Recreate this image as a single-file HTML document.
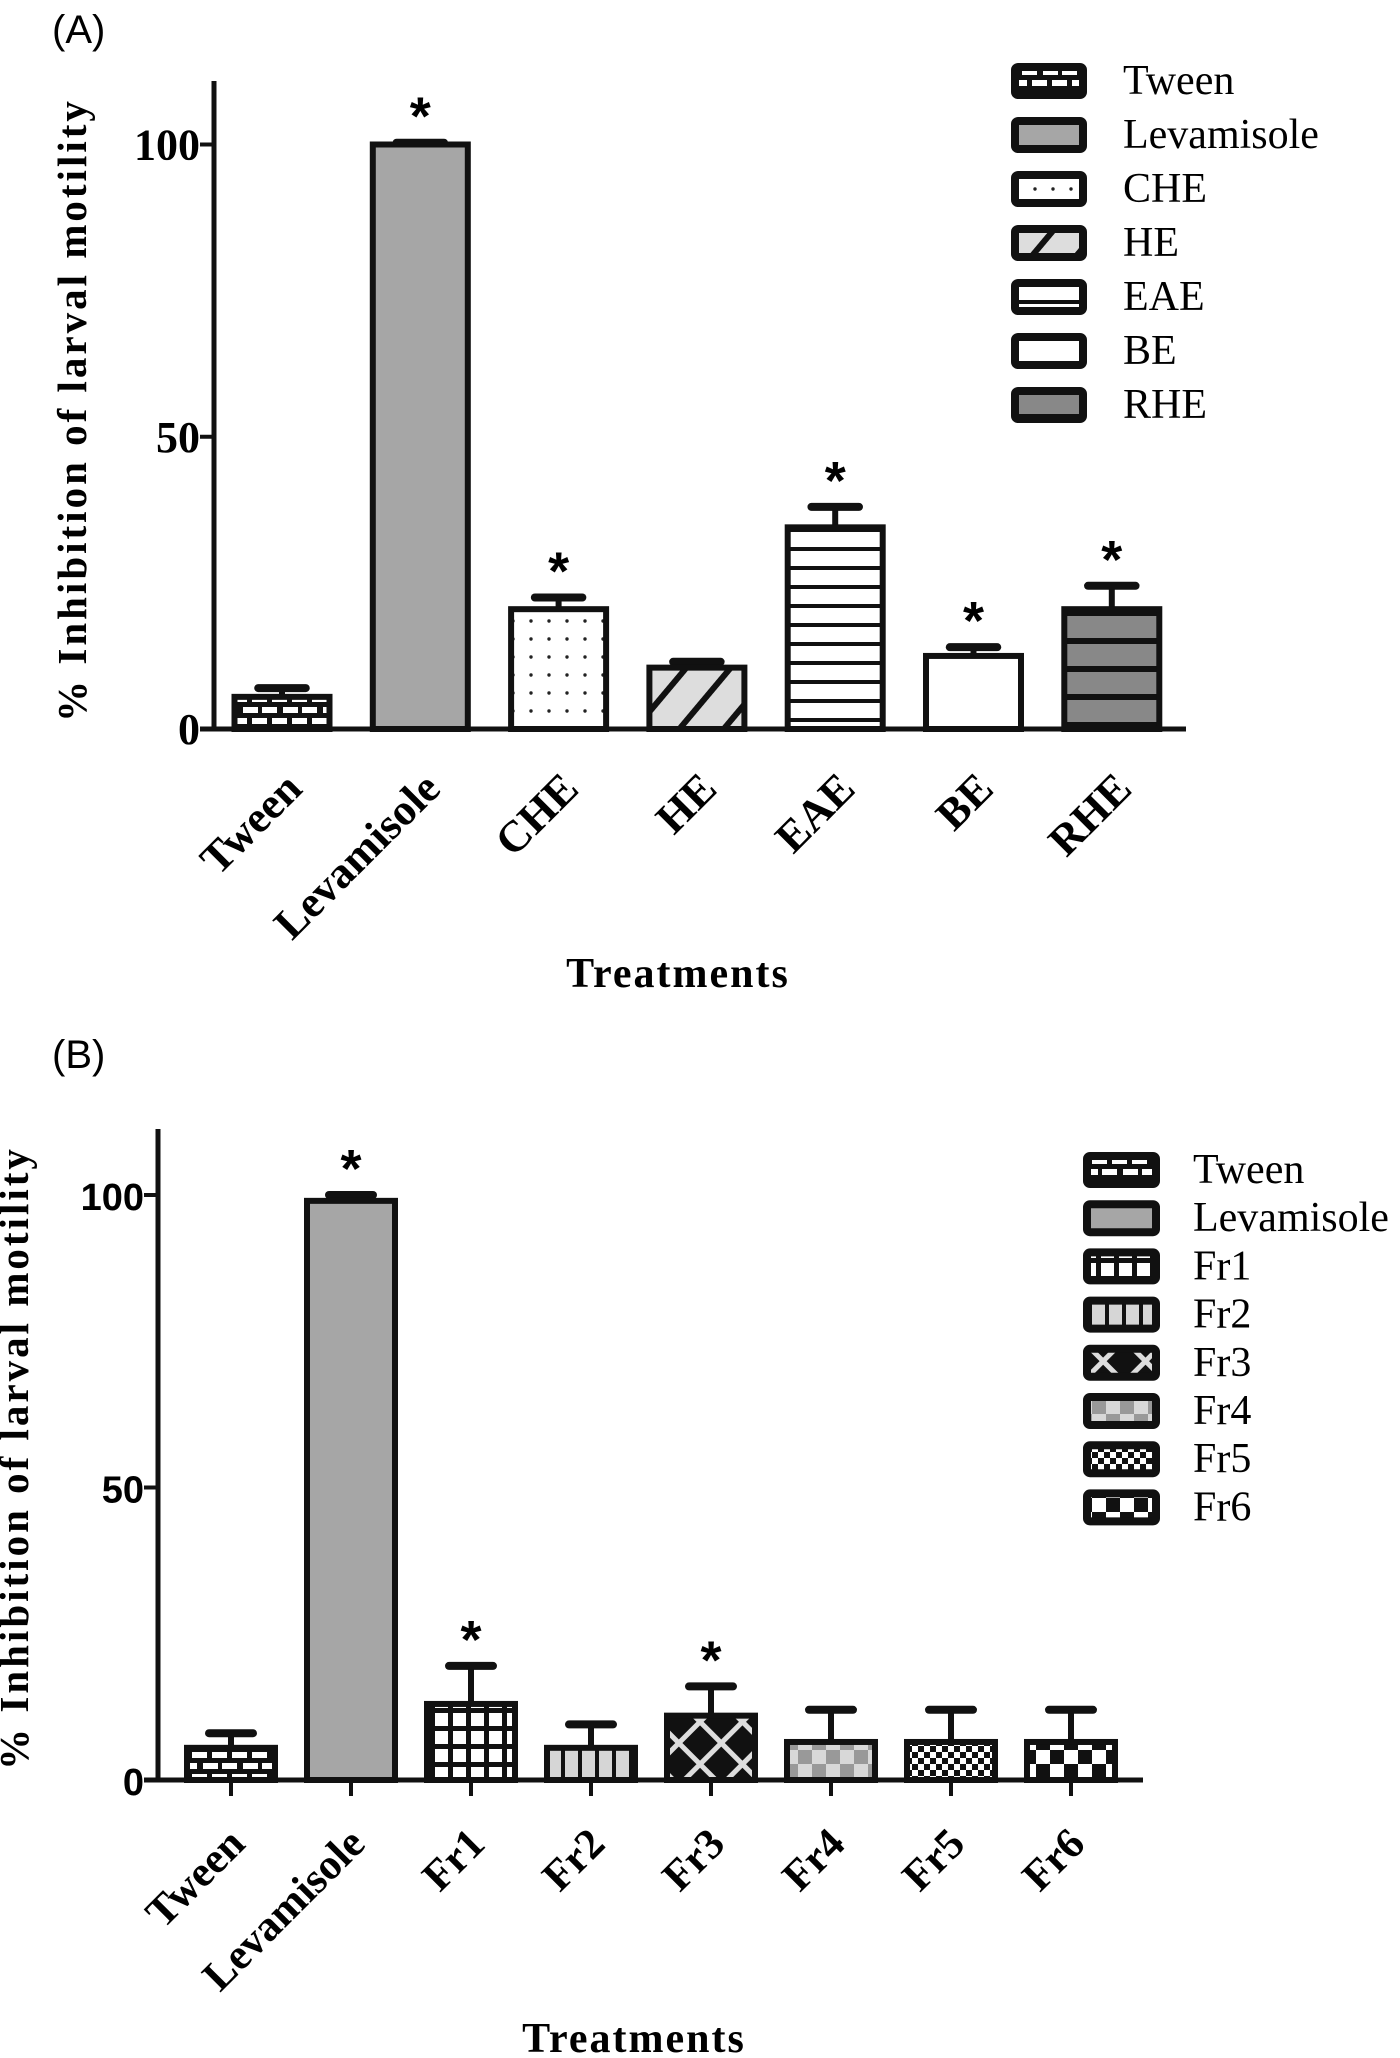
<!DOCTYPE html>
<html><head><meta charset="utf-8"><style>html,body{margin:0;padding:0;background:#fff}svg{display:block}</style></head>
<body>
<svg id="fig" width="1400" height="2058" viewBox="0 0 1400 2058" xmlns="http://www.w3.org/2000/svg">
<defs>
<pattern id="p-tween" patternUnits="userSpaceOnUse" width="40" height="22"><rect width="40" height="22" fill="#111"/><rect x="3" y="3" width="15" height="6" fill="#fff"/><rect x="22" y="3" width="15" height="6" fill="#fff"/><rect x="-8" y="14" width="15" height="6" fill="#fff"/><rect x="12" y="14" width="15" height="6" fill="#fff"/><rect x="32" y="14" width="15" height="6" fill="#fff"/></pattern>
<pattern id="p-lev" patternUnits="userSpaceOnUse" width="10" height="10"><rect width="10" height="10" fill="#a6a6a6"/></pattern>
<pattern id="p-che" patternUnits="userSpaceOnUse" width="18" height="18"><rect width="18" height="18" fill="#fff"/><circle cx="9" cy="9" r="1.7" fill="#222"/></pattern>
<pattern id="p-he" patternUnits="userSpaceOnUse" width="34" height="34" patternTransform="rotate(40)"><rect width="34" height="34" fill="#ddd"/><rect width="6" height="34" fill="#111"/></pattern>
<pattern id="p-eae" patternUnits="userSpaceOnUse" width="10" height="19"><rect width="10" height="19" fill="#fff"/><rect y="15" width="10" height="4" fill="#111"/></pattern>
<pattern id="p-be" patternUnits="userSpaceOnUse" width="10" height="10"><rect width="10" height="10" fill="#fff"/></pattern>
<pattern id="p-rhe" patternUnits="userSpaceOnUse" width="10" height="28"><rect width="10" height="28" fill="#888"/><rect y="22" width="10" height="6" fill="#111"/></pattern>
<pattern id="p-fr1" patternUnits="userSpaceOnUse" width="18" height="18"><rect width="18" height="18" fill="#111"/><rect x="3" y="3" width="13" height="13" fill="#fff"/></pattern>
<pattern id="p-fr2" patternUnits="userSpaceOnUse" width="17" height="10"><rect width="17" height="10" fill="#d6d6d6"/><rect width="4" height="10" fill="#111"/></pattern>
<pattern id="p-fr3" patternUnits="userSpaceOnUse" width="30" height="30" patternTransform="rotate(45)"><rect width="30" height="30" fill="#111"/><rect width="5" height="30" fill="#ddd"/><rect width="30" height="5" fill="#ddd"/></pattern>
<pattern id="p-fr4" patternUnits="userSpaceOnUse" width="28" height="28"><rect width="28" height="28" fill="#d8d8d8"/><rect width="14" height="14" fill="#999"/><rect x="14" y="14" width="14" height="14" fill="#999"/></pattern>
<pattern id="p-fr5" patternUnits="userSpaceOnUse" width="12" height="12"><rect width="12" height="12" fill="#fff"/><rect width="6" height="6" fill="#111"/><rect x="6" y="6" width="6" height="6" fill="#111"/></pattern>
<pattern id="p-fr6" patternUnits="userSpaceOnUse" width="28" height="28"><rect width="28" height="28" fill="#fff"/><rect width="14" height="14" fill="#111"/><rect x="14" y="14" width="14" height="14" fill="#111"/></pattern>
</defs>
<text x="52" y="43" font-family="Liberation Sans, sans-serif" font-size="40">(A)</text>
<text x="52" y="1068" font-family="Liberation Sans, sans-serif" font-size="40">(B)</text>
</svg>
<script>
const catsA = ["Tween","Levamisole","CHE","HE","EAE","BE","RHE"];
const valsA = [5.5,100,20.5,10.5,34.5,12.5,20.5];
const errA = [7,100.3,22.5,11.5,38,14,24.5];
const sigA = [false,true,true,false,true,true,true];
const catsB = ["Tween","Levamisole","Fr1","Fr2","Fr3","Fr4","Fr5","Fr6"];
const valsB = [5.5,99,13,5.5,11,6.5,6.5,6.5];
const errB = [8,100,19.5,9.5,16,12,12,12];
const sigB = [false,true,true,false,true,false,false,false];
const yTicks = [0,50,100];
const patA = ["p-tween","p-lev","p-che","p-he","p-eae","p-be","p-rhe"];
const patB = ["p-tween","p-lev","p-fr1","p-fr2","p-fr3","p-fr4","p-fr5","p-fr6"];

const NS="http://www.w3.org/2000/svg";
const svg=document.getElementById('fig');
function mk(tag,attrs,parent,text){const e=document.createElementNS(NS,tag);for(const k in attrs)e.setAttribute(k,attrs[k]);if(text!==undefined)e.textContent=text;(parent||svg).appendChild(e);return e;}

function chart(o){
  const g=mk('g',{});
  
  
  const y=v=>o.y0-(o.y0-o.y100)*v/100;
  const x=i=>o.x0c+i*o.step;
  o.cats.forEach((c,i)=>{
    const cx=x(i),top=y(o.vals[i]),et=y(o.errs[i]);
    const eb=mk('line',{x1:cx,x2:cx,y1:top,y2:et,stroke:'#111','stroke-width':6},g);
    
    
    const cap=mk('line',{x1:cx-o.bw/4,x2:cx+o.bw/4,y1:et,y2:et,stroke:'#111','stroke-width':8,'stroke-linecap':'round'},g);
    
    
    const r=mk('rect',{x:cx-o.bw/2,y:top,width:o.bw,height:o.y0-top,fill:'url(#'+o.pats[i]+')',stroke:'#111','stroke-width':6},g);
    
    
    if(o.sig[i]){
      const s=mk('text',{x:cx,y:et-8,'text-anchor':'middle','font-family':'Liberation Sans, sans-serif','font-weight':'bold','font-size':54},g,'*');
      
      
    }
    if(o.xticks){
      const t=mk('line',{x1:cx,x2:cx,y1:o.y0,y2:o.y0+16,stroke:'#111','stroke-width':4},g);
      
      
    }
    const lx=cx+o.lblDx,ly=o.y0+o.lblDy;
    const l=mk('text',{x:lx,y:ly,'text-anchor':'end','font-family':'Liberation Serif, serif','font-weight':'bold','font-size':o.lblSize,transform:'rotate(-45 '+lx+' '+ly+')'},g,c);
    
    
  });
  const ya=mk('line',{x1:o.ax,x2:o.ax,y1:o.ytop,y2:o.y0+2,stroke:'#111','stroke-width':5},g);
  
  
  const xa=mk('line',{x1:o.ax-14,x2:o.xend,y1:o.y0,y2:o.y0,stroke:'#111','stroke-width':5},g);
  
  
  yTicks.forEach(v=>{
    const tk=mk('line',{x1:o.ax-14,x2:o.ax,y1:y(v),y2:y(v),stroke:'#111','stroke-width':4},g);
    
    
    const tl=mk('text',{x:o.ax-14,y:y(v)+15,'text-anchor':'end','font-family':o.tickFont,'font-weight':'bold','font-size':o.tickSize},g,String(v));
    
    
  });
  const yt=mk('text',{x:o.ytx,y:o.yty,'text-anchor':'middle','font-family':'Liberation Serif, serif','font-weight':'bold','font-size':41,'letter-spacing':3,transform:'rotate(-90 '+o.ytx+' '+o.yty+')'},g,'% Inhibition of larval motility');
  
  
  const xt=mk('text',{x:o.xtx,y:o.xty,'text-anchor':'middle','font-family':'Liberation Serif, serif','font-weight':'bold','font-size':42,'letter-spacing':2},g,'Treatments');
  
  
  o.cats.forEach((c,i)=>{
    const ly=o.legY0+i*o.legStep;
    const b=mk('rect',{x:o.legX+4,y:ly-14,width:o.legW-8,height:28,fill:'url(#'+o.pats[i]+')',stroke:'#111','stroke-width':8,rx:3},g);
    
    
    const t=mk('text',{x:o.legTx,y:ly+13,'font-family':'Liberation Serif, serif','font-size':o.legSize},g,c);
    
    
  });
}
chart({name:'chart-a',cats:catsA,vals:valsA,errs:errA,sig:sigA,pats:patA,ax:214,ytop:81,y0:729,y100:144.5,xend:1186,x0c:282,step:138.3,bw:95,xticks:false,lblDx:22,lblDy:62,lblSize:44,tickFont:'Liberation Serif, serif',tickSize:44,ytx:86,yty:410,xtx:678,xty:987,legX:1011,legW:76,legY0:81,legStep:54,legTx:1123,legSize:42});
chart({name:'chart-b',cats:catsB,vals:valsB,errs:errB,sig:sigB,pats:patB,ax:158,ytop:1129,y0:1780,y100:1195,xend:1143,x0c:231,step:120,bw:88,xticks:true,lblDx:16,lblDy:66,lblSize:43,tickFont:'Liberation Sans, sans-serif',tickSize:38,ytx:28,yty:1458,xtx:634,xty:2052,legX:1083,legW:77,legY0:1170,legStep:48.2,legTx:1193,legSize:42});
</script>
</body></html>
